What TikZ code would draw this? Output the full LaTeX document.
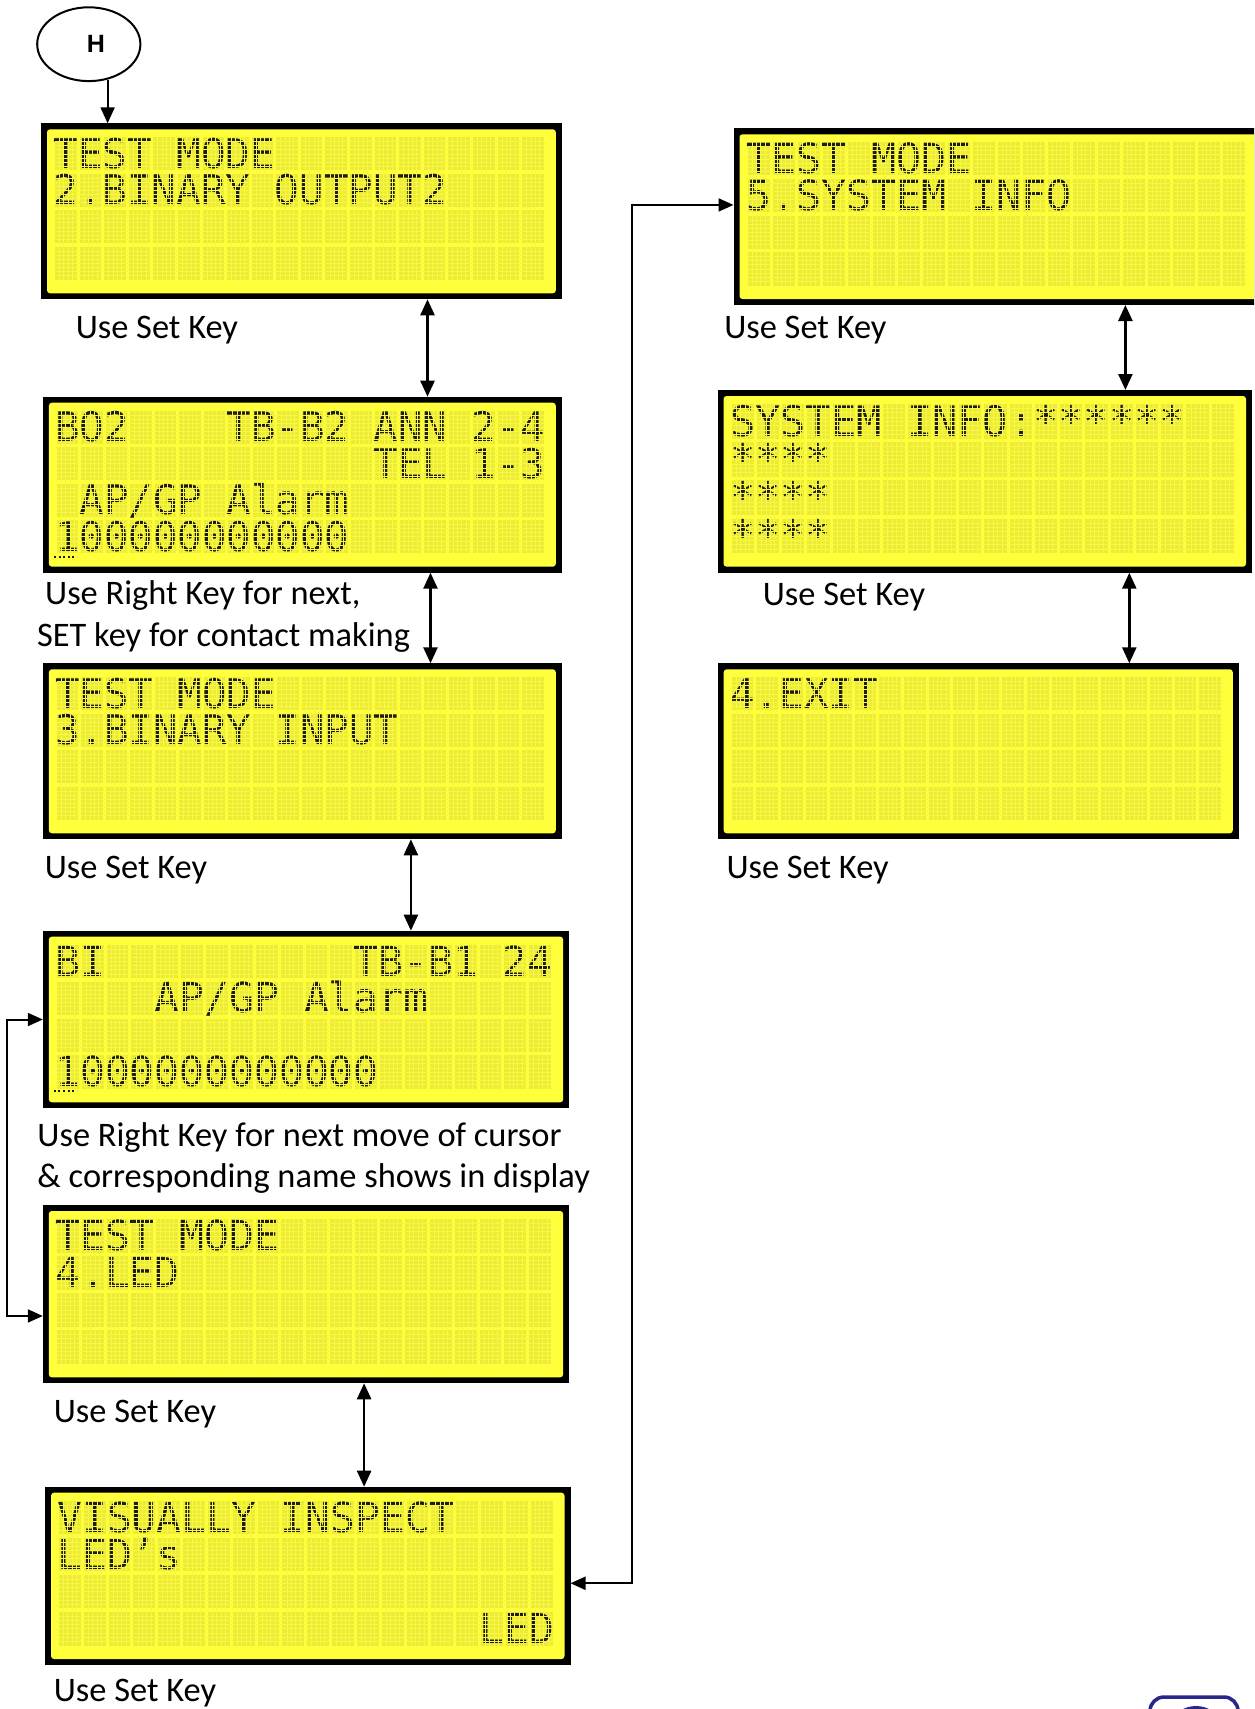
\documentclass[tikz,border=0pt]{standalone}
\usepackage{fontspec}
\setmainfont{Carlito}
\newfontfamily\lcdmono{DejaVu Sans Mono}
\newfontfamily\hfont{Liberation Sans}
\usetikzlibrary{arrows.meta,shapes.geometric}
\definecolor{lcdyellow}{RGB}{255,255,60}
\definecolor{lcdcell}{RGB}{236,236,54}
\definecolor{lcdgrid}{RGB}{248,248,66}
\definecolor{lcdink}{RGB}{28,28,16}
\definecolor{logoblue}{RGB}{40,40,140}

\newcommand{\lcdpanel}[5]{%
  \pgfmathsetmacro{\lx}{#2}%
  \pgfmathsetmacro{\ly}{#3}%
  \pgfmathsetmacro{\lw}{#4}%
  \pgfmathsetmacro{\lh}{#5}%
  \pgfmathsetmacro{\cp}{(\lw-29)/20}%
  \pgfmathsetmacro{\rp}{(\lh-30)/4}%
  \pgfmathsetmacro{\cw}{\cp-3}%
  \pgfmathsetmacro{\ch}{\rp-3.5}%
  \pgfmathsetmacro{\fs}{\cp*0.5/0.602}%
  \node[lcdframe, minimum width=\lw*0.5pt, minimum height=\lh*0.5pt] (#1) at (\lx,\ly) {};
  \fill[lcdyellow, rounded corners=1.5pt] ({\lx+6},{\ly+6}) rectangle ({\lx+\lw-6},{\ly+\lh-6});
  \foreach \rr in {0,...,3}{\foreach \cc in {0,...,19}{%
    \fill[lcdcell] ({\lx+14+\cc*\cp},{\ly+14+\rr*\rp}) rectangle ++({\cw},{\ch});}}
}
\newcommand{\lcdgridover}{%
  \foreach \cc in {0,...,19}{\foreach \dd in {1,...,4}{%
    \draw[lcdgrid, line width=0.28pt] ({\lx+14+\cc*\cp+\dd*\cw/5},{\ly+14}) -- ++(0,{3*\rp+\ch});}}
  \foreach \rr in {0,...,3}{\foreach \dd in {1,...,7}{%
    \draw[lcdgrid, line width=0.28pt] ({\lx+14},{\ly+14+\rr*\rp+\dd*\ch/8}) -- ++({19*\cp+\cw},0);}}
}
\newcommand{\lcdrow}[4]{%
  \node[lcdtxt] (#1) at ({\lx+12.5+#3*\cp},{\ly+14+#2*\rp+0.85*\rp}) {#4};}
\newcommand{\vlink}[4]{%
  \coordinate (#1) at (#4,0);
  \draw[dbl] (#1 |- #2.south) -- (#1 |- #3.north);}

\begin{document}
\begin{tikzpicture}[x=0.5pt,y=-0.5pt,
  >={Triangle[length=8pt,width=7pt]},
  lcdframe/.style={rectangle, fill=black, inner sep=0pt, outer sep=0pt, anchor=north west},
  lcdtxt/.style={anchor=base west, inner sep=0pt, outer sep=0pt, text=lcdink,
    text height=0.72*\fs pt, text depth=0pt,
    font=\lcdmono\fontsize{\fs pt}{\fs pt}\selectfont},
  caption/.style={anchor=base west, inner sep=0pt, outer sep=0pt,
    font=\fontsize{17.2pt}{20pt}\selectfont},
  dbl/.style={line width=1.25pt, <->},
  loopc/.style={line width=1pt, <->, >={Triangle[length=7.5pt,width=6.5pt]}},
  harr/.style={line width=1pt, ->},
  cursor/.style={lcdink, line width=1pt, dash pattern=on 1pt off 1.3pt},
]
\useasboundingbox (0,0) rectangle (1254,1709);
\clip (0,0) rectangle (1254,1709);
\fill[white] (0,0) rectangle (1254,1709);

% start node
\node[draw, ellipse, line width=1pt, minimum width=51.6pt, minimum height=36.9pt,
  inner sep=0pt, font=\hfont\bfseries\fontsize{12.5pt}{12.5pt}\selectfont] (H) at (88.8,44.2) {\hspace*{7pt}H};

% left column
\lcdpanel{b1}{41}{123.3}{520.8}{176}
\lcdrow{b1r1}{0}{0}{TEST MODE}
\lcdrow{b1r2}{1}{0}{2.BINARY OUTPUT2}
\lcdgridover

\lcdpanel{b2}{42.9}{396.7}{518.9}{176}
\lcdrow{b2a}{0}{0}{BO2}
\lcdrow{b2b}{0}{7}{TB-B2}
\lcdrow{b2c}{0}{13}{ANN 2-4}
\lcdrow{b2d}{1}{13}{TEL 1-3}
\lcdrow{b2e}{2}{1}{AP/GP Alarm}
\lcdrow{b2f}{3}{0}{100000000000}
\lcdgridover
\draw[cursor] ({\lx+11},{\ly+14+3.85*\rp+5.5}) -- ++(23,0);

\lcdpanel{b3}{42.9}{663.3}{518.9}{176}
\lcdrow{b3r1}{0}{0}{TEST MODE}
\lcdrow{b3r2}{1}{0}{3.BINARY INPUT}
\lcdgridover

\lcdpanel{b4}{42.8}{930.7}{526.4}{177.6}
\lcdrow{b4a}{0}{0}{BI}
\lcdrow{b4b}{0}{12}{TB-B1 24}
\lcdrow{b4c}{1}{4}{AP/GP Alarm}
\lcdrow{b4d}{3}{0}{1000000000000}
\lcdgridover
\draw[cursor] ({\lx+11},{\ly+14+3.85*\rp+4.5}) -- ++(23,0);

\lcdpanel{b5}{42.8}{1205}{526.4}{178.3}
\lcdrow{b5r1}{0}{0}{TEST MODE}
\lcdrow{b5r2}{1}{0}{4.LED}
\lcdgridover

\lcdpanel{b6}{45}{1486.7}{525.5}{178.3}
\lcdrow{b6r1}{0}{0}{VISUALLY INSPECT}
\lcdrow{b6r2}{1}{0}{LED’s}
\lcdrow{b6r4}{3}{17}{LED}
\lcdgridover

% right column
\lcdpanel{b7}{733.5}{128.3}{529}{176.7}
\lcdrow{b7r1}{0}{0}{TEST MODE}
\lcdrow{b7r2}{1}{0}{5.SYSTEM INFO}
\lcdgridover

\lcdpanel{b8}{717.6}{390}{534.4}{182.7}
\lcdrow{b8r1}{0}{0}{SYSTEM INFO:******}
\lcdrow{b8r2}{1}{0}{****}
\lcdrow{b8r3}{2}{0}{****}
\lcdrow{b8r4}{3}{0}{****}
\lcdgridover

\lcdpanel{b9}{717.7}{663.3}{521.1}{176}
\lcdrow{b9r1}{0}{0}{4.EXIT}
\lcdgridover

% captions
\node[caption] (c1) at (75.8,338.3) {Use Set Key};
\node[caption] (c2) at (45.2,604) {Use Right Key for next,};
\node[caption] (c3) at (37.1,646.7) {SET key for contact making};
\node[caption] (c4) at (44.9,878) {Use Set Key};
\node[caption] (c5) at (37.5,1146.7) {Use Right Key for next move of cursor};
\node[caption] (c6) at (37.5,1187.3) {\& corresponding name shows in display};
\node[caption] (c7) at (53.9,1422.7) {Use Set Key};
\node[caption] (c8) at (53.9,1701.7) {Use Set Key};
\node[caption] (c9) at (724.3,338.3) {Use Set Key};
\node[caption] (c10) at (762.9,605) {Use Set Key};
\node[caption] (c11) at (726.5,878.3) {Use Set Key};

% connectors
\draw[harr] (H.-62) -- (H.-62 |- b1.north);
\vlink{k12}{b1}{b2}{427.5}
\vlink{k23}{b2}{b3}{430.5}
\vlink{k34}{b3}{b4}{410.9}
\vlink{k56}{b5}{b6}{364.1}
\vlink{k78}{b7}{b8}{1125.4}
\vlink{k89}{b8}{b9}{1129.3}
\draw[loopc] (b4.west) -- ++(-35.5,0) |- ([yshift=-10.9pt]b5.west);
\draw[loopc] ([yshift=-3.7pt]b6.east) -- ++(61,0) |- ([yshift=5.85pt]b7.west);

% partial logo
\draw[logoblue, line width=1.75pt, rounded corners=7pt] (1150,1697) rectangle (1238,1780);
\fill[logoblue] (1196,1722) ellipse [x radius=22, y radius=16];
\end{tikzpicture}
\end{document}
